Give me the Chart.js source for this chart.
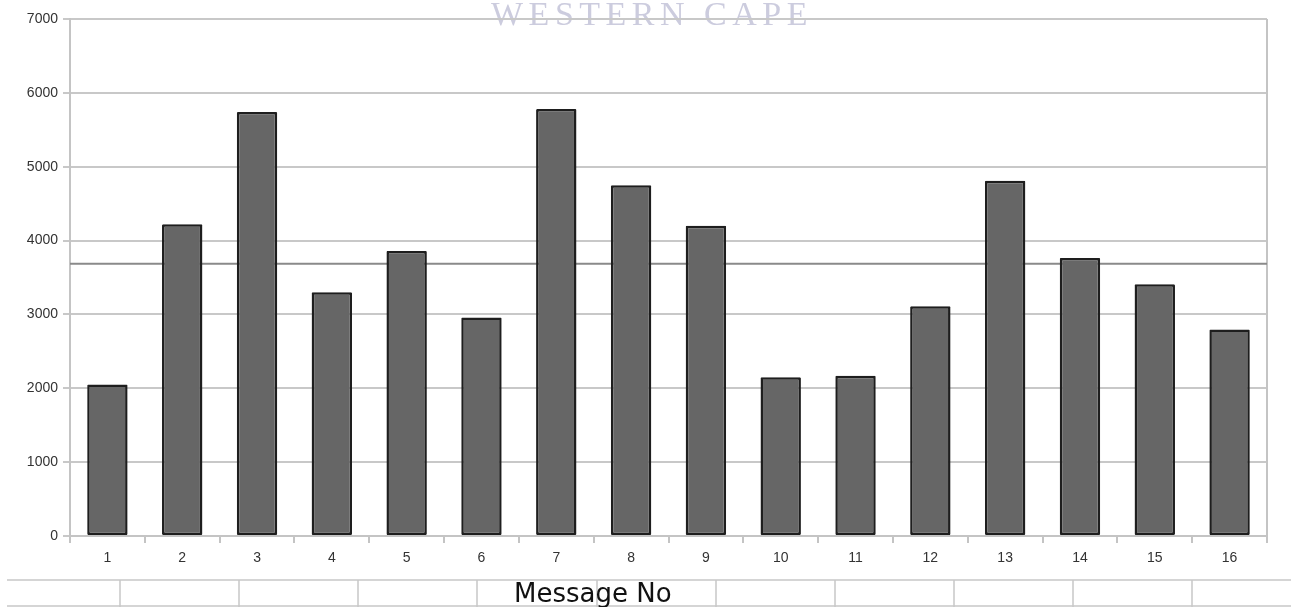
<!DOCTYPE html>
<html>
<head>
<meta charset="utf-8">
<script src="https://cdn.jsdelivr.net/npm/chart.js@4"></script>
<style>
html,body{margin:0;padding:0;background:#fff;}
#wrap{position:relative;width:1291px;height:607px;}
</style>
</head>
<body>
<div id="wrap"><canvas id="c" width="1291" height="607"></canvas></div>
<script>
const categories = ['1','2','3','4','5','6','7','8','9','10','11','12','13','14','15','16'];
const values = [2050,4220,5740,3300,3860,2960,5780,4750,4200,2150,2170,3110,4810,3765,3410,2795];
const averageValue = 3685;
const yTicks = [0,1000,2000,3000,4000,5000,6000,7000];
const axisTitle = 'Message No';
const watermarkText = 'WESTERN CAPE';
const tableColumnEdges = [120,239,358,477,597,716,835,954,1073,1192];

const decor = {
  id: 'decor',
  beforeDraw(chart) {
    const ctx = chart.ctx;
    ctx.save();
    ctx.fillStyle = '#fff';
    ctx.fillRect(0,0,chart.width,chart.height);
    ctx.font = '34px "Liberation Serif", serif';
    ctx.fillStyle = 'rgb(204,204,222)';
    ctx.textAlign = 'center';
    ctx.textBaseline = 'alphabetic';
    try { ctx.letterSpacing = '5.5px'; } catch(e) {}
    ctx.fillText(watermarkText, 652, 25);
    try { ctx.letterSpacing = '0px'; } catch(e) {}
    ctx.restore();
  },
  beforeDatasetsDraw(chart) {
    const ctx = chart.ctx, a = chart.chartArea, y = chart.scales.y;
    ctx.save();
    ctx.strokeStyle = '#c4c4c4';
    ctx.lineWidth = 2;
    ctx.beginPath();
    ctx.moveTo(a.right, a.top);
    ctx.lineTo(a.right, a.bottom);
    ctx.stroke();
    const py = y.getPixelForValue(averageValue);
    ctx.strokeStyle = '#8a8a8a';
    ctx.lineWidth = 2;
    ctx.beginPath();
    ctx.moveTo(a.left, py);
    ctx.lineTo(a.right, py);
    ctx.stroke();
    ctx.restore();
  },
  afterDraw(chart) {
    const ctx = chart.ctx;
    ctx.save();
    ctx.strokeStyle = '#c8c8c8';
    ctx.lineWidth = 1.5;
    ctx.beginPath();
    ctx.moveTo(7, 580); ctx.lineTo(1291, 580);
    ctx.moveTo(7, 606); ctx.lineTo(1291, 606);
    tableColumnEdges.forEach(x => { ctx.moveTo(x, 580); ctx.lineTo(x, 607); });
    ctx.stroke();
    ctx.font = '26px "DejaVu Sans", sans-serif';
    ctx.fillStyle = '#111';
    ctx.textAlign = 'left';
    ctx.textBaseline = 'alphabetic';
    ctx.fillText(axisTitle, 514, 602);
    ctx.restore();
  }
};

new Chart(document.getElementById('c'), {
  type: 'bar',
  data: {
    labels: categories,
    datasets: [{
      data: values,
      backgroundColor: '#666666',
      borderColor: '#1e1e1e',
      borderWidth: 2.5,
      borderSkipped: false,
      borderRadius: 1,
      categoryPercentage: 1,
      barPercentage: 0.54
    }]
  },
  options: {
    responsive: false,
    animation: false,
    devicePixelRatio: 1,
    layout: { padding: { top: 19, right: 24, bottom: 0, left: 0 } },
    plugins: { legend: { display: false }, tooltip: { enabled: false } },
    scales: {
      x: {
        offset: true,
        grid: { offset: true, drawOnChartArea: false, tickLength: 7, color: '#c4c4c4', lineWidth: 2 },
        border: { color: '#c4c4c4', width: 2 },
        ticks: { color: '#333', font: { family: '"Liberation Sans", Arial, sans-serif', size: 14 }, padding: 7, maxRotation: 0 },
        afterFit(s) { s.height = 71; }
      },
      y: {
        min: 0, max: 7000,
        afterBuildTicks(s) { s.ticks = yTicks.map(v => ({ value: v })); },
        grid: { color: '#c8c8c8', lineWidth: 2, tickLength: 7 },
        border: { color: '#c4c4c4', width: 2 },
        ticks: { color: '#333', font: { family: '"Liberation Sans", Arial, sans-serif', size: 14 }, padding: 5, callback: v => String(v) },
        afterFit(s) { s.width = 70; }
      }
    }
  },
  plugins: [decor]
});
</script>
</body>
</html>
